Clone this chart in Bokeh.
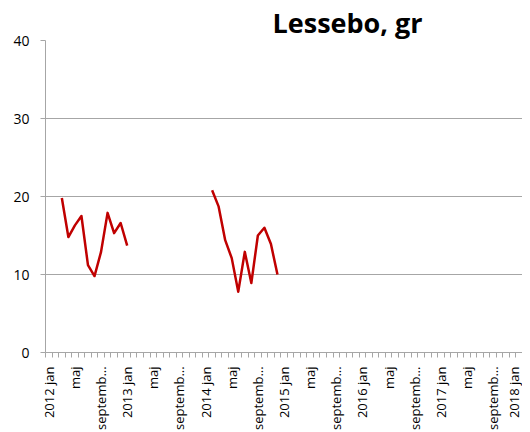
import math
from bokeh.plotting import figure
from bokeh.models import FixedTicker, Range1d
from bokeh.embed import file_html
from bokeh.resources import INLINE

# Monthly categories 2012 jan .. 2018 jan
years = [2012, 2013, 2014, 2015, 2016, 2017, 2018]
month_names = ["jan", "feb", "mar", "apr", "maj", "jun", "jul", "aug",
               "septemb…", "okt", "nov", "dec"]
categories = []
for y in years:
    for m in month_names:
        categories.append(f"{y} {m}" if m == "jan" else m)
categories = categories[:73]

# Series values (index into categories)
s1_idx = [2, 3, 4, 5, 6, 7, 8, 9, 10, 11, 12]
s1_val = [19.8, 14.8, 16.3, 17.5, 11.2, 9.8, 12.9, 17.9, 15.3, 16.6, 13.7]
s2_idx = [25, 26, 27, 28, 29, 30, 31, 32, 33, 34, 35]
s2_val = [20.8, 18.7, 14.4, 12.1, 7.8, 12.9, 8.9, 15.0, 16.0, 13.9, 10.0]

y_ticks = [0, 10, 20, 30, 40]
title_text = "Lessebo, gr"

FONT = "Open Sans"

p = figure(width=522, height=432, output_backend="svg", toolbar_location=None,
           x_range=Range1d(0, len(categories)), y_range=Range1d(0, 40),
           min_border_left=45, min_border_right=0, min_border_top=40,
           min_border_bottom=79)
p.outline_line_color = None
p.background_fill_color = "white"
p.border_fill_color = "white"

p.title.text = title_text
p.title.text_font = FONT
p.title.text_font_style = "bold"
p.title.text_font_size = "27px"
p.title.align = "left"
p.title.offset = 227
p.title.standoff = 0
p.title.text_color = "black"

xs1 = [i + 0.5 for i in s1_idx]
xs2 = [i + 0.5 for i in s2_idx]
p.line(xs1, s1_val, line_color="#c00000", line_width=2.5, line_join="round")
p.line(xs2, s2_val, line_color="#c00000", line_width=2.5, line_join="round")

# x axis
major = [i + 0.5 for i in range(0, len(categories), 4)]
p.xaxis.ticker = FixedTicker(ticks=major, minor_ticks=list(range(0, len(categories) + 1)))
p.xaxis.major_label_overrides = {i + 0.5: categories[i] for i in range(0, len(categories), 4)}
p.xaxis.major_label_orientation = math.pi / 2
p.xaxis.major_tick_out = 0
p.xaxis.major_tick_in = 0
p.xaxis.minor_tick_out = 5
p.xaxis.minor_tick_in = 0
p.xaxis.minor_tick_line_color = "#a6a6a6"
p.xaxis.axis_line_color = "#a6a6a6"
p.xaxis.major_label_text_font = FONT
p.xaxis.major_label_text_font_size = "13px"
p.xaxis.major_label_text_color = "black"
p.xaxis.major_label_standoff = 9

# y axis
p.yaxis.ticker = FixedTicker(ticks=y_ticks)
p.yaxis.major_tick_out = 5
p.yaxis.major_tick_in = 0
p.yaxis.minor_tick_line_color = None
p.yaxis.major_tick_line_color = "#a6a6a6"
p.yaxis.axis_line_color = "#a6a6a6"
p.yaxis.major_label_text_font = FONT
p.yaxis.major_label_text_font_size = "14px"
p.yaxis.major_label_text_color = "black"
p.yaxis.major_label_standoff = 11

p.xgrid.grid_line_color = None
p.ygrid.ticker = FixedTicker(ticks=y_ticks)
p.ygrid.grid_line_color = "#a6a6a6"
p.ygrid.grid_line_width = 1

open("out.html", "w").write(file_html(p, INLINE))
